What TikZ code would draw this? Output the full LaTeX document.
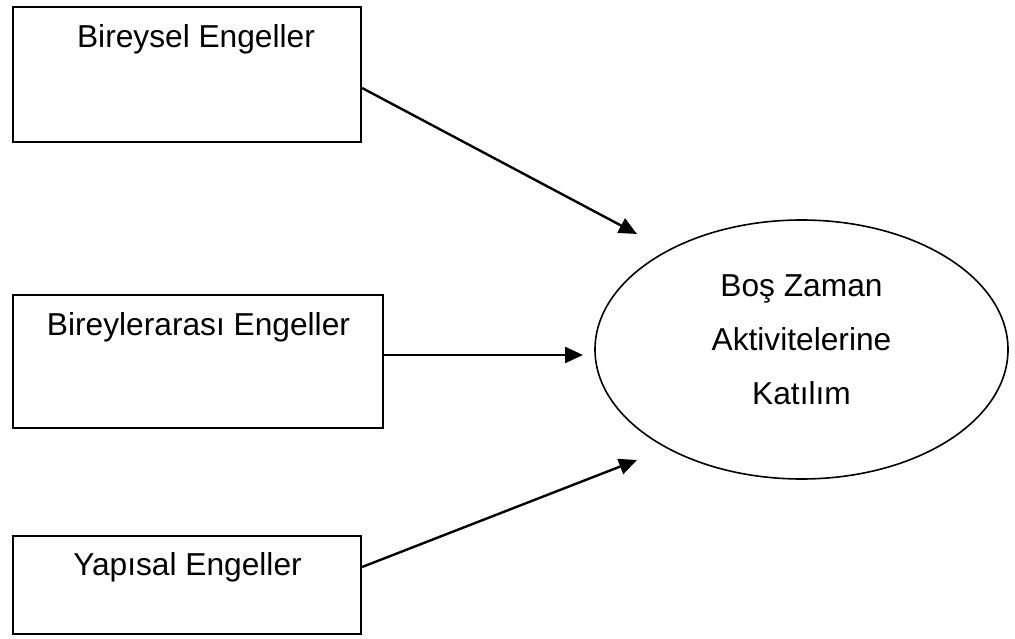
\documentclass[tikz,border=0pt]{standalone}
\usepackage{fontspec}
\setmainfont{Liberation Sans}
\usetikzlibrary{shapes.geometric,arrows.meta}
\begin{document}
\begin{tikzpicture}[x=1pt,y=-1pt]
			\tikzset{engel/.style={draw,line width=2.2pt,minimum width=348pt,minimum height=135pt,inner sep=0pt},
				yazi/.style={font=\fontsize{31.7}{54}\selectfont,inner sep=0pt},
				ok/.style={line width=2.4pt,-{Triangle[length=18pt,width=16pt]}}}
			\useasboundingbox (0,0) rectangle (1015,639);
			\node[engel] (bireysel) at (187,74.5) {};
			\node[engel,minimum width=370pt,minimum height=133pt] (bireylerarasi) at (198,361.5) {};
			\node[engel,minimum height=98pt] (yapisal) at (187,585) {};
			\node[draw,ellipse,line width=1.6pt,minimum width=413pt,minimum height=259pt] (katilim) at (801.5,349.5) {};
			\path
			(196,48) node[yazi,anchor=base] (t1) {Bireysel Engeller}
			(198.5,335) node[yazi,anchor=base] (t2) {Bireylerarası Engeller}
			(187.5,575) node[yazi,anchor=base] (t3) {Yapısal Engeller}
			(801.5,339.5) node[yazi,align=center] (t4) {Boş Zaman\\Aktivitelerine\\Katılım}
			;
			\coordinate (u1) at (637,234);
			\coordinate (u2) at (583,355);
			\coordinate (u3) at (637,460);
			\draw[ok] ([yshift=-13.5pt]bireysel.east)--(u1);
			\draw[ok] ([yshift=6.5pt]bireylerarasi.east)--(u2);
			\draw[ok] ([yshift=18pt]yapisal.east)--(u3);
		\end{tikzpicture}
\end{document}
